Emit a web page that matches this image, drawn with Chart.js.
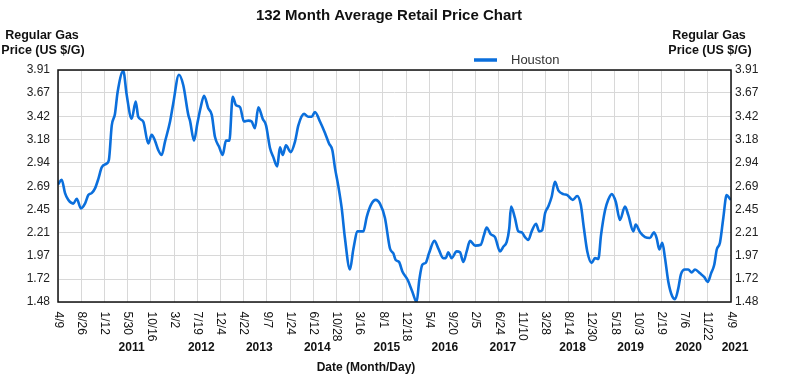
<!DOCTYPE html>
<html>
<head>
<meta charset="utf-8">
<script src="https://cdn.jsdelivr.net/npm/chart.js@4/dist/chart.umd.min.js"></script>
<style>
  html, body { margin: 0; padding: 0; background: #fff; }
  canvas { display: block; }
</style>
</head>
<body>
<canvas id="c" width="800" height="383"></canvas>
<script>
// ---- DATA ----
const chartTitle = '132 Month Average Retail Price Chart';
const seriesName = 'Houston';
const axisTitleLines = ['Regular Gas', 'Price (US $/G)'];
const xAxisTitle = 'Date (Month/Day)';

// day offsets from 4/9/2010
const days = [0,22,42,61,91,112,137,161,181,201,221,241,261,291,304,321,340,356,390,410,440,464,479,509,539,559,579,599,619,639,669,688,722,748,778,788,
812,832,852,872,897,918,937,963,983,1003,1023,1043,1063,1087,1110,1136,1156,1176,1196,1222,1242,1266,1285,1309,1325,1342,1361,1389,1415,1435,1469,1494,1515,1534,1564,1594,
1618,1638,1654,1673,1694,1713,1743,1763,1789,1823,1843,1869,1897,1922,1952,1982,2002,2016,2036,2056,2088,2115,2141,2157,2175,2195,2215,2247,2271,2300,2315,2330,2350,2380,2400,2420,
2440,2460,2490,2524,2543,2559,2583,2609,2639,2659,2679,2694,2705,2728,2748,2768,2788,2808,2828,2854,2873,2890,2908,2927,2947,2967,2987,3017,3041,3073,3100,3121,3140,3160,3186,3206,3226,
3242,3266,3285,3306,3330,3355,3385,3405,3435,3449,3475,3505,3534,3558,3574,3590,3608,3624,3644,3667,3684,3703,3719,3743,3763,3783,3803,3833,3859,3879,3899,3918,3933,3952,3972,3992,4012,4018];

const houstonPrices = [2.71,2.76,2.62,2.55,2.51,2.56,2.46,2.51,2.60,2.62,2.67,2.77,2.89,2.93,2.97,3.33,3.45,3.68,3.90,3.65,3.40,3.58,3.42,3.37,3.14,3.23,3.17,3.07,3.02,3.16,3.37,3.56,3.86,3.75,3.44,3.38,
3.17,3.35,3.52,3.64,3.51,3.44,3.21,3.10,3.02,3.17,3.17,3.63,3.54,3.52,3.37,3.38,3.37,3.30,3.52,3.40,3.33,3.09,3.00,2.90,3.10,3.02,3.12,3.05,3.16,3.33,3.45,3.42,3.42,3.47,3.37,3.25,
3.14,3.07,2.88,2.70,2.46,2.15,1.82,2.03,2.22,2.22,2.37,2.50,2.55,2.51,2.36,2.04,1.99,1.92,1.90,1.80,1.71,1.59,1.48,1.71,1.87,1.89,1.99,2.12,2.04,1.94,1.94,2.00,1.94,2.01,2.00,1.90,
2.01,2.12,2.07,2.08,2.18,2.26,2.19,2.16,2.01,2.06,2.11,2.25,2.48,2.36,2.22,2.21,2.16,2.13,2.22,2.30,2.22,2.23,2.41,2.48,2.58,2.74,2.65,2.61,2.60,2.55,2.59,2.50,2.25,2.01,1.89,1.94,1.93,
2.18,2.44,2.55,2.61,2.53,2.34,2.48,2.39,2.22,2.29,2.21,2.16,2.15,2.21,2.15,2.03,2.10,1.94,1.69,1.54,1.51,1.62,1.77,1.82,1.82,1.79,1.82,1.78,1.74,1.69,1.78,1.87,2.03,2.10,2.36,2.60,2.56,2.55];

const totalDays = 4018;
const tickLabels = ['4/9','8/26','1/12','5/30','10/16','3/2','7/19','12/4','4/22','9/7','1/24','6/12','10/28','3/16','8/1','12/18','5/4','9/20','2/5','6/24','11/10','3/28','8/14','12/30','5/18','10/3','2/19','7/6','11/22','4/9'];
const tickYears = [2010,2010,2011,2011,2011,2012,2012,2012,2013,2013,2014,2014,2014,2015,2015,2015,2016,2016,2017,2017,2017,2018,2018,2018,2019,2019,2020,2020,2020,2021];
const yearLabels = ['2011','2012','2013','2014','2015','2016','2017','2018','2019','2020','2021'];
const yTicks = ['1.48','1.72','1.97','2.21','2.45','2.69','2.94','3.18','3.42','3.67','3.91'];

// ---- BUILD ----
const FONT = '"Liberation Sans", Arial, Helvetica, sans-serif';
const LINE = '#0b6fdc';
const tickDays = tickLabels.map((_, i) => i * totalDays / (tickLabels.length - 1));
const yMin = parseFloat(yTicks[0]), yMax = parseFloat(yTicks[yTicks.length - 1]);
const points = days.map((d, i) => ({ x: d, y: houstonPrices[i] }));

function setYTicks(scale) { scale.ticks = yTicks.map(t => ({ value: parseFloat(t) })); }

const extras = {
  id: 'extras',
  afterDraw(chart) {
    const ctx = chart.ctx, a = chart.chartArea, xs = chart.scales.x;
    ctx.save();
    ctx.strokeStyle = '#111';
    ctx.lineWidth = 1.5;
    ctx.strokeRect(a.left, a.top, a.right - a.left, a.bottom - a.top);

    ctx.fillStyle = '#111';
    ctx.textAlign = 'center';
    ctx.textBaseline = 'middle';
    ctx.font = 'bold 15px ' + FONT;
    ctx.fillText(chartTitle, 389, 16);

    ctx.font = 'bold 12.5px ' + FONT;
    ctx.fillText(axisTitleLines[0], 42, 36);
    ctx.fillText(axisTitleLines[1], 43, 51);
    ctx.fillText(axisTitleLines[0], 709, 36);
    ctx.fillText(axisTitleLines[1], 710, 51);

    // legend
    ctx.strokeStyle = LINE;
    ctx.lineWidth = 3.5;
    ctx.beginPath(); ctx.moveTo(474, 60); ctx.lineTo(497, 60); ctx.stroke();
    ctx.fillStyle = '#333';
    ctx.textAlign = 'left';
    ctx.font = '13px ' + FONT;
    ctx.fillText(seriesName, 511, 60);

    // rotated tick labels
    ctx.fillStyle = '#111';
    ctx.font = '12px ' + FONT;
    tickLabels.forEach((lab, i) => {
      const x = xs.getPixelForValue(tickDays[i]);
      ctx.save();
      ctx.translate(x, a.bottom + 9.5);
      ctx.rotate(Math.PI / 2);
      ctx.textAlign = 'left';
      ctx.textBaseline = 'middle';
      ctx.fillText(lab, 0, 0);
      ctx.restore();
    });

    // year labels centred under their ticks
    ctx.font = 'bold 12px ' + FONT;
    ctx.textAlign = 'center';
    yearLabels.forEach(y => {
      const xsIn = tickDays.filter((_, i) => String(tickYears[i]) === y).map(d => xs.getPixelForValue(d));
      const cx = xsIn.reduce((s, v) => s + v, 0) / xsIn.length + 4;
      ctx.fillText(y, cx, 348);
    });

    ctx.fillText(xAxisTitle, 366, 368);
    ctx.restore();
  }
};

new Chart(document.getElementById('c'), {
  type: 'line',
  data: {
    datasets: [{
      label: seriesName,
      data: points,
      borderColor: LINE,
      borderWidth: 2.6,
      pointRadius: 0,
      fill: false,
      cubicInterpolationMode: 'monotone',
      yAxisID: 'y'
    }]
  },
  options: {
    responsive: false,
    devicePixelRatio: 1,
    animation: false,
    layout: { padding: { top: 70, left: 0, right: 0, bottom: 0 } },
    plugins: { legend: { display: false }, title: { display: false }, tooltip: { enabled: false } },
    scales: {
      x: {
        type: 'linear', min: 0, max: totalDays,
        afterBuildTicks: s => { s.ticks = tickDays.map(v => ({ value: v })); },
        afterFit: s => { s.height = 81; },
        ticks: { display: false },
        grid: { color: '#d8d8d8', lineWidth: 1, drawTicks: false },
        border: { display: false }
      },
      y: {
        position: 'left', min: yMin, max: yMax,
        afterBuildTicks: setYTicks,
        afterFit: s => { s.width = 58; },
        ticks: { font: { family: FONT, size: 12 }, color: '#222', padding: 8,
                 callback: (v, i) => yTicks[i] },
        grid: { color: '#d8d8d8', lineWidth: 1, drawTicks: false },
        border: { display: false }
      },
      y2: {
        position: 'right', min: yMin, max: yMax,
        afterBuildTicks: setYTicks,
        afterFit: s => { s.width = 69; },
        ticks: { font: { family: FONT, size: 12 }, color: '#222', padding: 4,
                 callback: (v, i) => yTicks[i] },
        grid: { display: false, drawTicks: false },
        border: { display: false }
      }
    }
  },
  plugins: [extras]
});
</script>
</body>
</html>
